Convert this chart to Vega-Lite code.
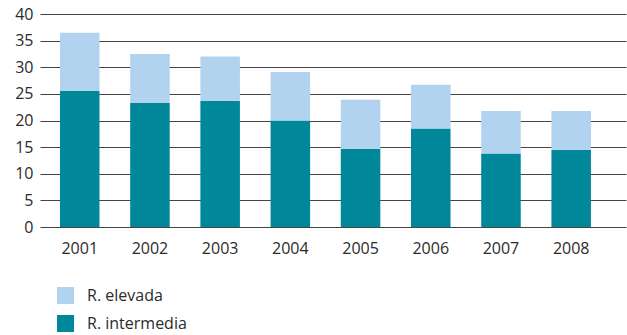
{
  "$schema": "https://vega.github.io/schema/vega-lite/v6.json",
  "autosize": "none",
  "width": 586,
  "height": 213,
  "padding": {"left": 40, "top": 14, "right": 1, "bottom": 108},
  "background": "white",
  "data": {
    "values": [
      {"anio": "2001", "serie": "R. intermedia", "valor": 25.6},
      {"anio": "2001", "serie": "R. elevada", "valor": 10.9},
      {"anio": "2002", "serie": "R. intermedia", "valor": 23.3},
      {"anio": "2002", "serie": "R. elevada", "valor": 9.2},
      {"anio": "2003", "serie": "R. intermedia", "valor": 23.7},
      {"anio": "2003", "serie": "R. elevada", "valor": 8.3},
      {"anio": "2004", "serie": "R. intermedia", "valor": 20.0},
      {"anio": "2004", "serie": "R. elevada", "valor": 9.1},
      {"anio": "2005", "serie": "R. intermedia", "valor": 14.7},
      {"anio": "2005", "serie": "R. elevada", "valor": 9.2},
      {"anio": "2006", "serie": "R. intermedia", "valor": 18.5},
      {"anio": "2006", "serie": "R. elevada", "valor": 8.2},
      {"anio": "2007", "serie": "R. intermedia", "valor": 13.8},
      {"anio": "2007", "serie": "R. elevada", "valor": 8.0},
      {"anio": "2008", "serie": "R. intermedia", "valor": 14.5},
      {"anio": "2008", "serie": "R. elevada", "valor": 7.3}
    ]
  },
  "mark": {"type": "bar"},
  "encoding": {
    "x": {
      "field": "anio",
      "type": "ordinal",
      "scale": {"paddingInner": 0.437, "paddingOuter": 0.392, "align": 0.363},
      "axis": {
        "title": null,
        "labelAngle": 0,
        "ticks": false,
        "domain": false,
        "labelPadding": 13,
        "labelFont": "Open Sans",
        "labelFontSize": 16,
        "labelColor": "#2b2b2b"
      }
    },
    "y": {
      "field": "valor",
      "type": "quantitative",
      "stack": "zero",
      "scale": {"domain": [0, 40]},
      "axis": {
        "title": null,
        "values": [0, 5, 10, 15, 20, 25, 30, 35, 40],
        "ticks": false,
        "domain": false,
        "labelPadding": 7,
        "labelFont": "Open Sans",
        "labelFontSize": 16,
        "labelColor": "#2b2b2b",
        "gridColor": "#444444",
        "gridOpacity": 1,
        "gridWidth": 1
      }
    },
    "color": {
      "field": "serie",
      "type": "nominal",
      "scale": {"domain": ["R. elevada", "R. intermedia"], "range": ["#B2D3EF", "#008799"]},
      "legend": {
        "title": null,
        "orient": "none",
        "legendX": 17,
        "legendY": 273,
        "padding": 0,
        "symbolType": "square",
        "symbolSize": 289,
        "symbolStrokeWidth": 0,
        "symbolOpacity": 1,
        "labelFont": "Open Sans",
        "labelFontSize": 16,
        "labelColor": "#2b2b2b",
        "labelOffset": 13,
        "rowPadding": 11
      }
    },
    "order": {"field": "serie", "sort": "descending"}
  },
  "config": {
    "view": {"stroke": null}
  }
}
